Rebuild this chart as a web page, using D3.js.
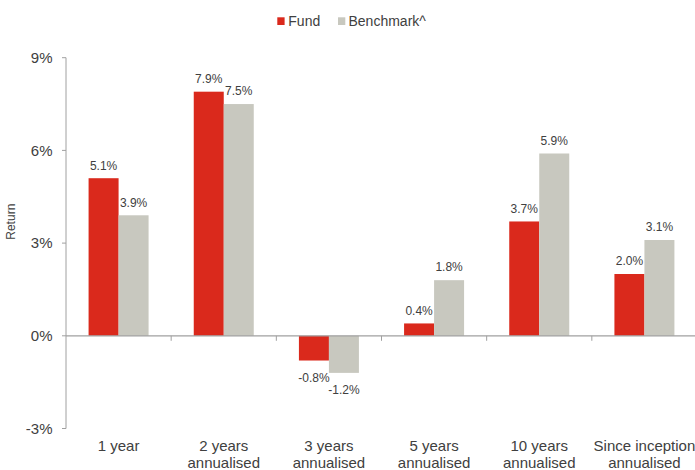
<!DOCTYPE html>
<html><head><meta charset="utf-8">
<script src="https://cdn.jsdelivr.net/npm/d3@7"></script>
<style>body{margin:0;background:#fff}svg{display:block;font-family:"Liberation Sans",Arial,sans-serif}</style>
</head><body><svg id="c" width="695" height="470"></svg>
<script>
const categories = [["1 year"],["2 years","annualised"],["3 years","annualised"],["5 years","annualised"],["10 years","annualised"],["Since inception","annualised"]];
const seriesNames = ["Fund","Benchmark^"];
const fund = [5.1, 7.9, -0.8, 0.4, 3.7, 2.0];
const benchmark = [3.9, 7.5, -1.2, 1.8, 5.9, 3.1];
const yTicks = [-3, 0, 3, 6, 9];
const colors = ["#DA291C", "#C8C8BF"];

const svg = d3.select("#c");
const x = d3.scaleBand().domain(d3.range(categories.length)).range([66, 697]).paddingInner(0).paddingOuter(0);
const y = d3.scaleLinear().domain([-3, 9]).range([428.5, 57.7]);
const barW = 30;
const series = [fund, benchmark];
const textCol = "#404040", axisCol = "#a0a0a0";

// y axis
svg.append("line").attr("x1",66).attr("x2",66).attr("y1",y(9)).attr("y2",y(-3)).attr("stroke",axisCol);
yTicks.forEach(t=>{
  svg.append("line").attr("x1",62).attr("x2",66).attr("y1",y(t)).attr("y2",y(t)).attr("stroke",axisCol);
  svg.append("text").attr("x",52.5).attr("y",y(t)).attr("dy","0.35em").attr("text-anchor","end")
    .attr("font-size",15).attr("fill",textCol).text(t+"%");
});
svg.append("text").attr("transform",`translate(15,221.7) rotate(-90)`).attr("text-anchor","middle")
  .attr("font-size",12).attr("fill",textCol).text("Return");

// bars
series.forEach((vals,si)=>{
  vals.forEach((v,i)=>{
    const cx = x(i)+x.bandwidth()/2;
    const bx = cx - barW + si*barW;
    svg.append("rect").attr("x",bx).attr("width",barW)
      .attr("y",Math.min(y(v),y(0))).attr("height",Math.abs(y(v)-y(0))).attr("fill",colors[si]);
    svg.append("text").attr("x",bx+barW/2).attr("y", v>=0 ? y(v)-8.7 : y(v)+21)
      .attr("text-anchor","middle")
      .attr("font-size",12).attr("fill",textCol).text(v.toFixed(1)+"%");
  });
});

// zero line and x ticks
svg.append("line").attr("x1",66).attr("x2",697).attr("y1",y(0)).attr("y2",y(0)).attr("stroke",axisCol).attr("stroke-width",1.2);
d3.range(1,categories.length).forEach(i=>{
  svg.append("line").attr("x1",x(i)).attr("x2",x(i)).attr("y1",y(0)).attr("y2",y(0)+5).attr("stroke",axisCol);
});
categories.forEach((lines,i)=>{
  const t = svg.append("text").attr("text-anchor","middle").attr("font-size",15).attr("fill",textCol);
  lines.forEach((l,j)=>t.append("tspan").attr("x",x(i)+x.bandwidth()/2).attr("y",451+j*16.5).text(l));
});

// legend
const lg = [[277.3, seriesNames[0], 288.3],[338, seriesNames[1], 348.5]];
lg.forEach(([lx,name,tx],i)=>{
  svg.append("rect").attr("x",lx).attr("y",17.3).attr("width",7.3).attr("height",7.7).attr("fill",colors[i]);
  svg.append("text").attr("x",tx).attr("y",26).attr("font-size",14).attr("fill",textCol).text(name);
});
</script></body></html>
